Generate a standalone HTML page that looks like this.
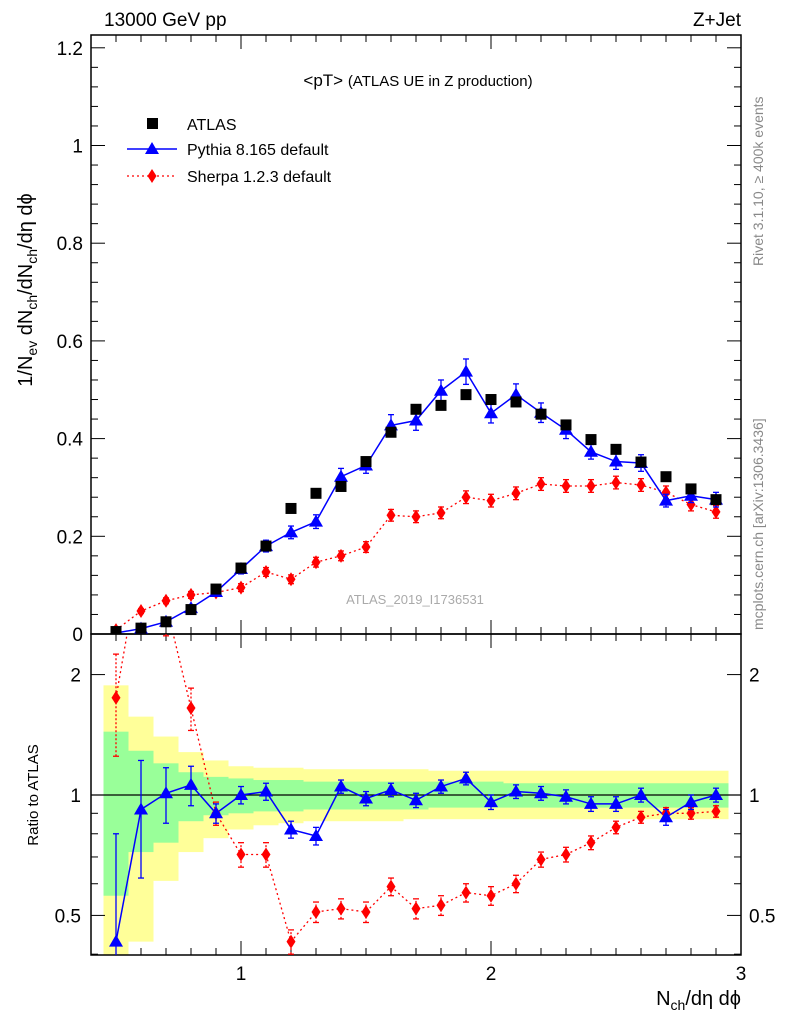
<!DOCTYPE html>
<html><head><meta charset="utf-8"><style>
html,body{margin:0;background:#fff;overflow:hidden;width:786px;height:1024px}
svg{display:block;font-family:"Liberation Sans",Arial,sans-serif}
</style></head><body>
<svg id="chart" width="786" height="1024" xmlns="http://www.w3.org/2000/svg"></svg>
<script>
const xs=[0.5,0.6,0.7,0.8,0.9,1.0,1.1,1.2,1.3,1.4,1.5,1.6,1.7,1.8,1.9,2.0,2.1,2.2,2.3,2.4,2.5,2.6,2.7,2.8,2.9];
const atlas=[0.005,0.012,0.025,0.05,0.092,0.135,0.18,0.257,0.288,0.302,0.353,0.413,0.46,0.468,0.49,0.48,0.475,0.45,0.428,0.398,0.378,0.352,0.322,0.297,0.275];
const pythia=[0.002,0.011,0.025,0.053,0.086,0.133,0.18,0.208,0.23,0.322,0.345,0.427,0.437,0.498,0.537,0.452,0.49,0.453,0.418,0.373,0.353,0.35,0.273,0.283,0.275];
const pythiaErr=[0.002,0.004,0.004,0.006,0.007,0.01,0.012,0.013,0.014,0.017,0.016,0.022,0.02,0.022,0.026,0.02,0.022,0.02,0.018,0.015,0.016,0.017,0.013,0.014,0.015];
const sherpa=[0.008,0.047,0.068,0.08,0.085,0.095,0.127,0.112,0.147,0.16,0.178,0.243,0.24,0.248,0.28,0.273,0.288,0.307,0.303,0.303,0.31,0.305,0.29,0.265,0.25];
const sherpaErr=[0.003,0.005,0.006,0.007,0.007,0.008,0.009,0.009,0.01,0.01,0.011,0.012,0.012,0.012,0.013,0.013,0.013,0.013,0.013,0.013,0.013,0.013,0.013,0.013,0.013];
const pythiaRatio=[0.43,0.92,1.01,1.06,0.9,1.0,1.02,0.82,0.79,1.05,0.98,1.03,0.97,1.05,1.1,0.96,1.02,1.01,0.99,0.95,0.95,1.0,0.88,0.96,1.0];
const pythiaRatioErr=[0.37,0.3,0.16,0.12,0.05,0.05,0.05,0.04,0.04,0.04,0.04,0.04,0.04,0.04,0.04,0.04,0.04,0.04,0.04,0.04,0.04,0.04,0.04,0.04,0.04];
const sherpaRatio=[1.75,4,3,1.65,0.9,0.71,0.71,0.43,0.51,0.52,0.51,0.59,0.52,0.53,0.57,0.56,0.6,0.69,0.71,0.76,0.83,0.88,0.9,0.9,0.91];
const sherpaRatioErr=[0.5,0.5,0.5,0.2,0.06,0.05,0.05,0.03,0.03,0.03,0.03,0.03,0.03,0.03,0.03,0.03,0.03,0.03,0.03,0.03,0.03,0.03,0.03,0.03,0.03];
const yellowHi=[1.88,1.57,1.40,1.28,1.22,1.18,1.17,1.17,1.16,1.16,1.16,1.16,1.16,1.15,1.15,1.15,1.15,1.15,1.15,1.15,1.15,1.15,1.15,1.15,1.15];
const yellowLo=[0.3,0.43,0.61,0.72,0.78,0.82,0.84,0.85,0.86,0.86,0.86,0.86,0.87,0.87,0.87,0.87,0.87,0.87,0.87,0.87,0.87,0.87,0.87,0.87,0.87];
const greenHi=[1.44,1.29,1.2,1.14,1.11,1.1,1.09,1.09,1.08,1.08,1.08,1.08,1.08,1.08,1.08,1.08,1.07,1.07,1.07,1.07,1.07,1.07,1.07,1.07,1.07];
const greenLo=[0.56,0.72,0.76,0.86,0.89,0.9,0.91,0.91,0.92,0.92,0.92,0.92,0.92,0.93,0.93,0.93,0.93,0.93,0.93,0.93,0.93,0.93,0.93,0.93,0.93];
const mainTicks=[0,0.2,0.4,0.6,0.8,1,1.2];
const mainTickLabels=["0","0.2","0.4","0.6","0.8","1","1.2"];
const ratioTicks=[0.5,1,2];
const ratioTickLabels=["0.5","1","2"];
const xTicks=[1,2,3];
const xTickLabels=["1","2","3"];

const L=91,R=741,T=35,M=634,B=955;
const sx=v=>L+(v-0.4)*250;
const sy=v=>634-v*488.5;
const ry=v=>795-Math.log10(v)*400;
const NS="http://www.w3.org/2000/svg";
const svg=document.getElementById('chart');
function el(tag,attrs,parent){const e=document.createElementNS(NS,tag);for(const k in attrs)e.setAttribute(k,attrs[k]);(parent||svg).appendChild(e);return e;}
function txt(s,attrs,parent){const e=el('text',attrs,parent);e.textContent=s;return e;}

const bands=el('g',{});


const clipR=el('clipPath',{id:'cr'});el('rect',{x:L,y:M,width:R-L,height:B-M},clipR);
const clipM=el('clipPath',{id:'cm'});el('rect',{x:L,y:T,width:R-L,height:M-T},clipM);
bands.setAttribute('clip-path','url(#cr)');
xs.forEach((x,i)=>{
 const r=el('rect',{x:sx(x-0.05),y:ry(yellowHi[i]),width:25,height:ry(yellowLo[i])-ry(yellowHi[i]),fill:'#ffff99'},bands);
 
 
});
xs.forEach((x,i)=>{
 const r=el('rect',{x:sx(x-0.05),y:ry(greenHi[i]),width:25,height:ry(greenLo[i])-ry(greenHi[i]),fill:'#99ff99'},bands);
 
 
});
el('line',{x1:L,x2:R,y1:ry(1),y2:ry(1),stroke:'#000','stroke-width':1.3});

el('rect',{x:L,y:T,width:R-L,height:M-T,fill:'none',stroke:'#000','stroke-width':1.5});
el('rect',{x:L,y:M,width:R-L,height:B-M,fill:'none',stroke:'#000','stroke-width':1.5});

mainTicks.forEach((v,i)=>{
 const y=sy(v);
 el('line',{x1:L,x2:L+14,y1:y,y2:y,stroke:'#000'});el('line',{x1:R,x2:R-14,y1:y,y2:y,stroke:'#000'});
 if(i<mainTicks.length-1)for(let k=1;k<5;k++){const yy=sy(v+k*0.04);el('line',{x1:L,x2:L+7,y1:yy,y2:yy,stroke:'#000'});el('line',{x1:R,x2:R-7,y1:yy,y2:yy,stroke:'#000'});}
 const t=txt(mainTickLabels[i],{x:L-8,y:y+7,'text-anchor':'end','font-size':19});
 
 
});
[0.4,0.5,0.6,0.7,0.8,0.9,1,2].forEach(v=>{
 const big=ratioTicks.includes(v);const y=ry(v);
 el('line',{x1:L,x2:L+(big?14:7),y1:y,y2:y,stroke:'#000'});el('line',{x1:R,x2:R-(big?14:7),y1:y,y2:y,stroke:'#000'});
});
ratioTicks.forEach((v,i)=>{
 const t=txt(ratioTickLabels[i],{x:L-10,y:ry(v)+7,'text-anchor':'end','font-size':19});
 
 
 const t2=txt(ratioTickLabels[i],{x:R+8,y:ry(v)+7,'font-size':19});
 
 
});
for(let v=0.5;v<3.0001;v+=0.1){
 const big=Math.abs(v-Math.round(v))<1e-6;const x=sx(v);
 [[M,-1],[B,-1],[T,1],[M,1]].forEach(([y0,d])=>el('line',{x1:x,x2:x,y1:y0,y2:y0+d*(big?14:7),stroke:'#000'}));
}
xTicks.forEach((v,i)=>{
 const t=txt(xTickLabels[i],{x:sx(v),y:980,'text-anchor':'middle','font-size':19});
 
 
});

const gm=el('g',{'clip-path':'url(#cm)'});


el('polyline',{points:xs.map((x,i)=>sx(x)+','+sy(sherpa[i])).join(' '),fill:'none',stroke:'#f00','stroke-width':1.3,'stroke-dasharray':'2,3'},gm);
el('polyline',{points:xs.map((x,i)=>sx(x)+','+sy(pythia[i])).join(' '),fill:'none',stroke:'#00f','stroke-width':1.5},gm);
function errbar(g,x,y1,y2,col,dash){el('line',{x1:x,x2:x,y1:y1,y2:y2,stroke:col,'stroke-width':1.3,'stroke-dasharray':dash||'none'},g);el('line',{x1:x-3,x2:x+3,y1:y1,y2:y1,stroke:col,'stroke-width':1.3},g);el('line',{x1:x-3,x2:x+3,y1:y2,y2:y2,stroke:col,'stroke-width':1.3},g);}
function tri(g,x,y){return el('polygon',{points:`${x},${y-7} ${x-7},${y+5} ${x+7},${y+5}`,fill:'#00f'},g);}
function dia(g,x,y){return el('polygon',{points:`${x},${y-7} ${x-4.5},${y} ${x},${y+7} ${x+4.5},${y}`,fill:'#f00'},g);}
xs.forEach((x,i)=>{
 errbar(gm,sx(x),sy(sherpa[i]-sherpaErr[i]),sy(sherpa[i]+sherpaErr[i]),'#f00','2,2');
 const d=dia(gm,sx(x),sy(sherpa[i]));
 
 
 errbar(gm,sx(x),sy(pythia[i]-pythiaErr[i]),sy(pythia[i]+pythiaErr[i]),'#00f');
 const t=tri(gm,sx(x),sy(pythia[i]));
 
 
 const s=el('rect',{x:sx(x)-5.5,y:sy(atlas[i])-5.5,width:11,height:11,fill:'#000'},gm);
 
 
});

const gr=el('g',{'clip-path':'url(#cr)'});


el('polyline',{points:xs.map((x,i)=>sx(x)+','+ry(sherpaRatio[i])).join(' '),fill:'none',stroke:'#f00','stroke-width':1.3,'stroke-dasharray':'2,3'},gr);
el('polyline',{points:xs.map((x,i)=>sx(x)+','+ry(pythiaRatio[i])).join(' '),fill:'none',stroke:'#00f','stroke-width':1.5},gr);
xs.forEach((x,i)=>{
 errbar(gr,sx(x),ry(Math.max(0.05,sherpaRatio[i]-sherpaRatioErr[i])),ry(sherpaRatio[i]+sherpaRatioErr[i]),'#f00','2,2');
 const d=dia(gr,sx(x),ry(sherpaRatio[i]));
 
 
 errbar(gr,sx(x),ry(Math.max(0.05,pythiaRatio[i]-pythiaRatioErr[i])),ry(pythiaRatio[i]+pythiaRatioErr[i]),'#00f');
 const t=tri(gr,sx(x),ry(pythiaRatio[i]));
 
 
});

const lg=el('g',{});


el('rect',{x:147,y:118,width:11,height:11,fill:'#000'},lg);
txt('ATLAS',{x:187,y:130,'font-size':16},lg);
el('line',{x1:127,x2:177,y1:149,y2:149,stroke:'#00f','stroke-width':1.5},lg);tri(lg,152,149);
txt('Pythia 8.165 default',{x:187,y:155,'font-size':16},lg);
el('line',{x1:127,x2:177,y1:176,y2:176,stroke:'#f00','stroke-width':1.3,'stroke-dasharray':'2,3'},lg);dia(lg,152,176);
txt('Sherpa 1.2.3 default',{x:187,y:182,'font-size':16},lg);

const h1=txt('13000 GeV pp',{x:104,y:26,'font-size':19});


const h2=txt('Z+Jet',{x:741,y:26,'font-size':19,'text-anchor':'end'});


const pt=txt('',{x:418,y:86,'font-size':17,'text-anchor':'middle'});pt.innerHTML='&lt;pT&gt; <tspan font-size="15">(ATLAS UE in Z production)</tspan>';


const ai=txt('ATLAS_2019_I1736531',{x:415,y:604,'font-size':13,fill:'#aaa','text-anchor':'middle'});


const rl=txt('Rivet 3.1.10, \u2265 400k events',{x:0,y:0,'font-size':14,fill:'#888',transform:'translate(763,266) rotate(-90)'});


const ml=txt('mcplots.cern.ch [arXiv:1306.3436]',{x:0,y:0,'font-size':14,fill:'#888',transform:'translate(763,630) rotate(-90)'});


const yl=txt('',{x:0,y:0,'font-size':20,transform:'translate(32,290) rotate(-90)','text-anchor':'middle'});
yl.innerHTML='1/N<tspan font-size="14" dy="5">ev</tspan><tspan dy="-5"> dN</tspan><tspan font-size="14" dy="5">ch</tspan><tspan dy="-5">/dN</tspan><tspan font-size="14" dy="5">ch</tspan><tspan dy="-5">/d\u03b7 d\u03d5</tspan>';


const rt=txt('Ratio to ATLAS',{x:0,y:0,'font-size':15,transform:'translate(38,795) rotate(-90)','text-anchor':'middle'});


const xl=txt('',{x:741,y:1005,'font-size':20,'text-anchor':'end'});
xl.innerHTML='N<tspan font-size="14" dy="5">ch</tspan><tspan dy="-5">/d\u03b7 d\u03d5</tspan>';


</script>
</body></html>
